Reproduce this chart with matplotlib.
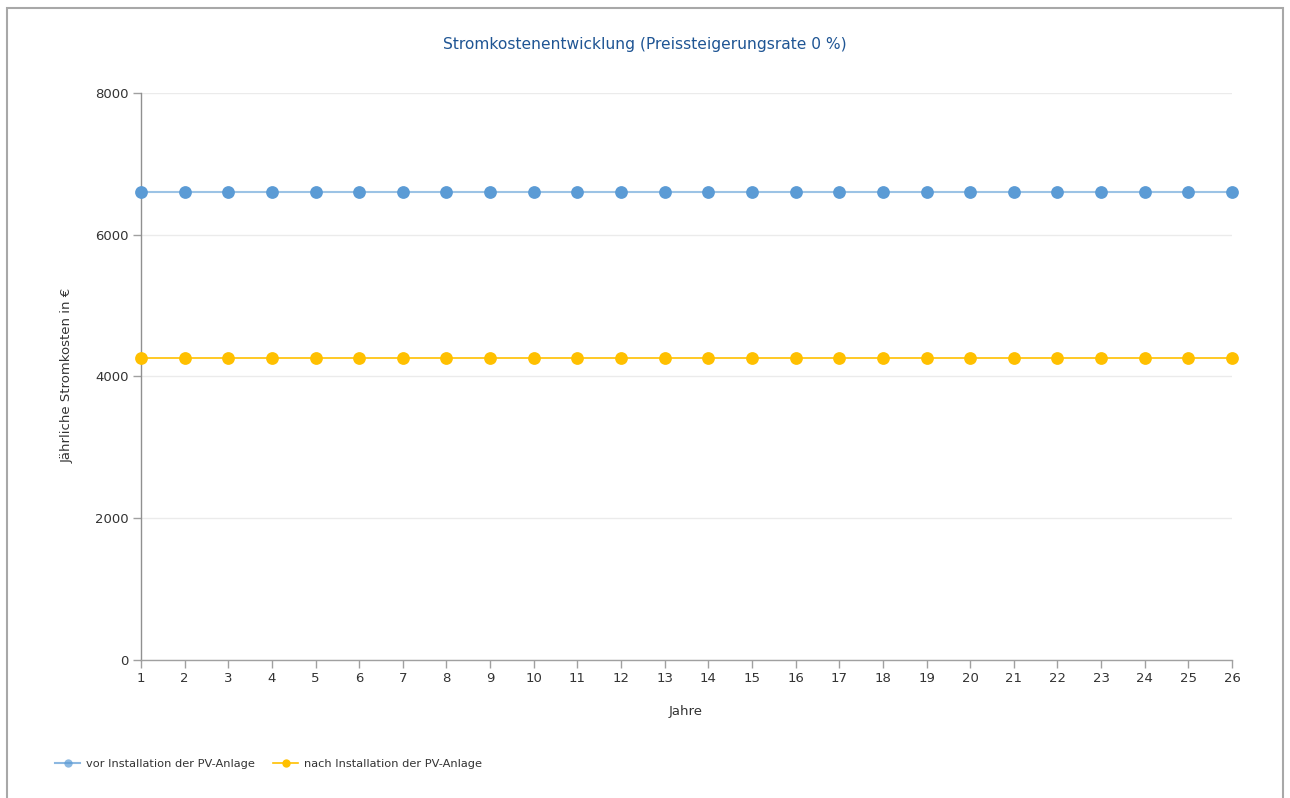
import matplotlib
matplotlib.use("Agg")
import matplotlib.pyplot as plt
from matplotlib.patches import Rectangle
from matplotlib.lines import Line2D

# Data
years = list(range(1, 27))
cost_before = [6600] * 26   # vor Installation der PV-Anlage
cost_after = [4265] * 26    # nach Installation der PV-Anlage
y_ticks = [0, 2000, 4000, 6000, 8000]

title = "Stromkostenentwicklung (Preissteigerungsrate 0 %)"
x_label = "Jahre"
y_label = "Jährliche Stromkosten in €"
label_before = "vor Installation der PV-Anlage"
label_after = "nach Installation der PV-Anlage"

blue = "#5b9bd5"
yellow = "#ffc000"
text_color = "#333333"
axis_color = "#a0a0a0"

plt.rcParams["font.family"] = ["DejaVu Sans"]

W, H = 1290, 798
fig = plt.figure(figsize=(W / 100, H / 100), dpi=100)
fig.patch.set_facecolor("white")

# Outer frame
fig.patches.append(Rectangle((7 / W, -0.01), (1283 - 7) / W, 1 - 8 / H + 0.01,
                             transform=fig.transFigure, fill=False,
                             edgecolor="#a8a8a8", linewidth=1.5))

left, right, top, bottom = 141, 1232, 93, 660
ax = fig.add_axes([left / W, 1 - bottom / H, (right - left) / W, (bottom - top) / H])
ax.set_xlim(1, 26)
ax.set_ylim(0, 8000)

ax.plot(years, cost_before, color=blue, linewidth=1.5, alpha=0.6, zorder=3)
ax.plot(years, cost_before, linestyle="none", marker="o", markersize=9.2,
        color=blue, markeredgewidth=0, zorder=4, clip_on=False)
ax.plot(years, cost_after, color=yellow, linewidth=1.2, zorder=3)
ax.plot(years, cost_after, linestyle="none", marker="o", markersize=9.2,
        color=yellow, markeredgewidth=0, zorder=4, clip_on=False)

ax.set_xticks(years)
ax.set_yticks(y_ticks)
ax.grid(axis="y", color="#ebebeb", linewidth=1)
ax.set_axisbelow(True)
for s in ("top", "right"):
    ax.spines[s].set_visible(False)
ax.spines["left"].set_color("#909090")
ax.spines["bottom"].set_color(axis_color)
ax.spines["left"].set_linewidth(1)
ax.spines["bottom"].set_linewidth(1)
ax.tick_params(axis="both", colors=axis_color, labelcolor=text_color,
               labelsize=9.5, length=6, width=1)
ax.tick_params(axis="y", pad=3)
ax.tick_params(axis="x", pad=3)

fig.text(645 / W, 1 - 44 / H, title, ha="center", va="center",
         color="#1f5594", fontsize=11.2)
fig.text(686 / W, 1 - 712 / H, x_label, ha="center", va="center",
         color=text_color, fontsize=9.5)
fig.text(67 / W, 1 - 375 / H, y_label, ha="center", va="center",
         rotation=90, color=text_color, fontsize=9.5)

handles = [
    Line2D([], [], color=blue, linewidth=1.5, alpha=0.7, marker="o",
           markersize=6, markerfacecolor=blue, markeredgewidth=0),
    Line2D([], [], color=yellow, linewidth=1.2, marker="o",
           markersize=6, markerfacecolor=yellow, markeredgewidth=0),
]
fig.legend(handles, [label_before, label_after], loc="center left",
           bbox_to_anchor=(45 / W, 1 - 764 / H), ncol=2, frameon=False,
           fontsize=8.2, handlelength=2.2, handletextpad=0.5,
           columnspacing=1.6, labelcolor=text_color)

fig.savefig("out.png", dpi=100, facecolor="white")
